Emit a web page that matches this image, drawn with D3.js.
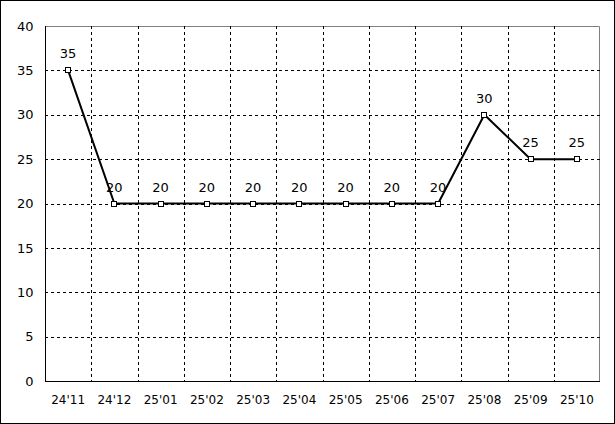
<!DOCTYPE html>
<head>
  <meta charset="utf-8">
  <script src="https://cdn.jsdelivr.net/npm/d3@7"></script>
  <style>
    body { margin:0; background:#fff; }
    text { font-family: "DejaVu Sans", sans-serif; font-size: 12px; fill: #000; }
  </style>
</head>
<body>
  <script>
    const months = ["24'11", "24'12", "25'01", "25'02", "25'03", "25'04", "25'05", "25'06", "25'07", "25'08", "25'09", "25'10"];
    const values = [35, 20, 20, 20, 20, 20, 20, 20, 20, 30, 25, 25];
    const yTicks = [0, 5, 10, 15, 20, 25, 30, 35, 40];

    let width = 615,
        height = 424;
    let m = { left: 45, top: 26, right: 15, bottom: 43 };

    let svg = d3.select("body").append("svg")
      .attr("width", width)
      .attr("height", height);

    // outer frame
    svg.append("rect")
      .attr("x", 0.5).attr("y", 0.5)
      .attr("width", width - 1).attr("height", height - 1)
      .attr("fill", "#fff").attr("stroke", "#000");

    let x = d3.scaleBand().domain(months).range([m.left, width - m.right]);
    let y = d3.scaleLinear().domain([0, 40]).range([height - m.bottom, m.top]);

    let x0 = m.left, x1 = width - m.right, y0 = height - m.bottom, y1 = m.top;

    // plot area border (grey top/right)
    svg.append("path")
      .attr("d", `M${x0},${y1 + 0.5}H${x1 - 0.5}V${y0}`)
      .attr("fill", "none").attr("stroke", "#808080");

    // horizontal grid
    svg.selectAll(".hgrid")
      .data(yTicks.filter(d => d > 0 && d < 40))
      .enter().append("line")
      .attr("x1", x0).attr("x2", x1)
      .attr("y1", d => Math.round(y(d)) + 0.5)
      .attr("y2", d => Math.round(y(d)) + 0.5)
      .attr("stroke", "#000").attr("stroke-dasharray", "3,3");

    // vertical grid at category boundaries
    svg.selectAll(".vgrid")
      .data(months.slice(1))
      .enter().append("line")
      .attr("x1", d => Math.round(x(d)) + 0.5)
      .attr("x2", d => Math.round(x(d)) + 0.5)
      .attr("y1", y1).attr("y2", y0)
      .attr("stroke", "#000").attr("stroke-dasharray", "3,3");

    // y axis
    let yAxis = svg.append("g")
      .attr("transform", `translate(${x0 + 0.5},0)`)
      .call(d3.axisLeft(y).tickValues(yTicks).tickSize(0).tickPadding(12));
    yAxis.select(".domain").attr("d", `M0,${y0}V${y1}`).attr("stroke", "#000");
    yAxis.selectAll("text").style("font-size", "13px");

    // x axis
    let xAxis = svg.append("g")
      .attr("transform", `translate(0,${y0 + 0.5})`)
      .call(d3.axisBottom(x).tickSize(0).tickPadding(14));
    xAxis.select(".domain").attr("d", `M${x0},0H${x1}`).attr("stroke", "#000");

    let pts = months.map((d, i) => ({ m: d, v: values[i] }));

    let line = d3.line()
      .x(d => x(d.m) + x.bandwidth() / 2)
      .y(d => y(d.v));

    svg.append("path")
      .datum(pts)
      .attr("d", line)
      .attr("fill", "none")
      .attr("stroke", "#000")
      .attr("stroke-width", 2);

    svg.selectAll(".mark")
      .data(pts)
      .enter().append("rect")
      .attr("x", d => Math.round(x(d.m) + x.bandwidth() / 2) - 2.5)
      .attr("y", d => Math.round(y(d.v)) - 2.5)
      .attr("width", 5).attr("height", 5)
      .attr("fill", "#fff").attr("stroke", "#000");

    svg.selectAll(".lbl")
      .data(pts)
      .enter().append("text")
      .attr("x", d => x(d.m) + x.bandwidth() / 2)
      .attr("y", d => y(d.v) - 12)
      .attr("text-anchor", "middle")
      .style("font-size", "13px")
      .text(d => d.v);
  </script>
</body>
